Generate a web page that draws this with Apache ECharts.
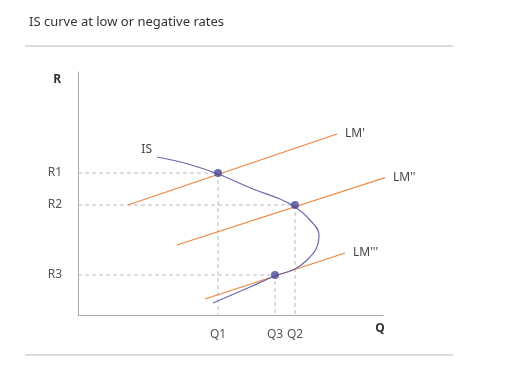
<!DOCTYPE html>
<html>
<head>
<meta charset="utf-8">
<script src="https://cdn.jsdelivr.net/npm/echarts@6/dist/echarts.min.js"></script>
<style>
  html, body { margin: 0; padding: 0; background: #fff; }
  #container { width: 514px; height: 376px; }
</style>
</head>
<body>
<div id="container"></div>
<script>
var myChart = echarts.init(document.getElementById('container'));

// tick labels and where they sit on each axis
var rLabels = ['R3', 'R2', 'R1'];
var rValues = [40, 110, 142];
var qLabels = ['Q1', 'Q3', 'Q2'];
var qValues = [140, 197, 217];

// IS curve (Q, R), bends back on itself at low rates
var isCurve = [
  [79, 158], [110, 151], [140, 141], [175, 126], [202, 116], [217, 108],
  [232, 95], [241, 80], [238, 66], [228, 54], [217, 46], [197, 39],
  [172, 28], [135, 12]
];

// LM lines, start and end
var lm1 = [[50, 110], [259, 181]];
var lm2 = [[99, 70], [309, 138]];
var lm3 = [[127, 16], [267, 62]];

// equilibrium points
var eqPoints = [[140, 142], [217, 110], [197, 40]];

function tickName(list, values, v) {
  var i = values.indexOf(v);
  return i < 0 ? '' : list[i];
}

function guide(p) {
  return {
    type: 'line',
    data: [[0, p[1]], [p[0], p[1]], [p[0], 0]],
    symbol: 'none',
    silent: true,
    lineStyle: { color: '#b8bccb', width: 1, type: [4, 3] }
  };
}

function lmSeries(name, pts) {
  return {
    type: 'line',
    name: name,
    data: pts,
    symbol: 'none',
    clip: false,
    lineStyle: { color: '#f0843a', width: 1.2 },
    endLabel: {
      show: true,
      formatter: name,
      distance: 8,
      color: '#444',
      fontSize: 12,
      fontFamily: 'Noto Sans'
    }
  };
}

var isData = isCurve.map(function (p, i) {
  if (i === 0) {
    return {
      value: p,
      label: {
        show: true, position: 'left', formatter: 'IS', offset: [0, -7],
        color: '#444', fontSize: 12, fontFamily: 'Noto Sans'
      }
    };
  }
  return p;
});

var option = {
  backgroundColor: '#fff',
  textStyle: { fontFamily: 'Noto Sans' },
  title: {
    text: 'IS curve at low or negative rates',
    left: 24,
    top: 11,
    textStyle: { color: '#333', fontSize: 13, fontWeight: 'normal' }
  },
  graphic: [
    { type: 'line', shape: { x1: 25, y1: 46, x2: 453, y2: 46 }, style: { stroke: '#dcdcdc', lineWidth: 2 } },
    { type: 'line', shape: { x1: 25, y1: 355, x2: 453, y2: 355 }, style: { stroke: '#dcdcdc', lineWidth: 2 } }
  ],
  grid: { left: 78, right: 131, top: 72, bottom: 61 },
  xAxis: {
    type: 'value',
    min: 0,
    max: 305,
    name: 'Q',
    nameLocation: 'end',
    nameGap: -3,
    nameTextStyle: { color: '#333', fontWeight: 'bold', fontSize: 12, align: 'center', verticalAlign: 'top', padding: [8, 0, 0, 0] },
    axisLine: { lineStyle: { color: '#aaa' } },
    axisTick: { show: false },
    splitLine: { show: false },
    axisLabel: {
      customValues: qValues,
      margin: 14,
      color: '#555',
      fontSize: 12,
      formatter: function (v) { return tickName(qLabels, qValues, v); }
    }
  },
  yAxis: {
    type: 'value',
    min: 0,
    max: 243,
    name: 'R',
    nameLocation: 'end',
    nameGap: -14,
    nameTextStyle: { color: '#333', fontWeight: 'bold', fontSize: 12, align: 'right', padding: [0, 17, 0, 0] },
    axisLine: { show: true, lineStyle: { color: '#aaa' } },
    axisTick: { show: false },
    splitLine: { show: false },
    axisLabel: {
      customValues: rValues,
      margin: 16,
      color: '#555',
      fontSize: 12,
      formatter: function (v) { return tickName(rLabels, rValues, v); }
    }
  },
  series: [
    guide(eqPoints[0]),
    guide(eqPoints[1]),
    guide(eqPoints[2]),
    lmSeries("LM'", lm1),
    lmSeries("LM''", lm2),
    lmSeries("LM'''", lm3),
    {
      type: 'line',
      name: 'IS',
      data: isData,
      smooth: 0.4,
      symbol: 'circle',
      symbolSize: 0,
      showSymbol: true,
      clip: false,
      lineStyle: { color: '#6a68b0', width: 1.2 }
    },
    {
      type: 'scatter',
      data: eqPoints,
      symbolSize: 8,
      z: 5,
      itemStyle: { color: '#4a4896' }
    }
  ]
};

myChart.setOption(option);
</script>
</body>
</html>
